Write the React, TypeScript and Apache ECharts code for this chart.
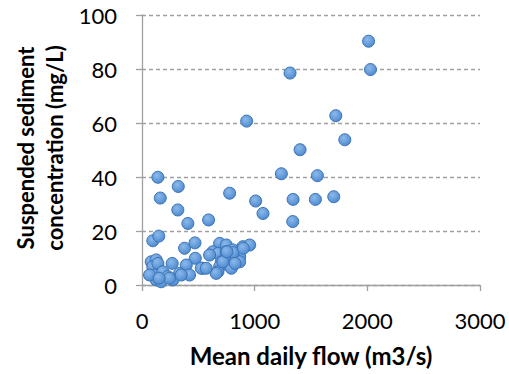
import React, { useEffect, useRef } from "react";
import * as echarts from "echarts";

const flow: number[] = [
  2011, 2028, 1314, 929, 1720, 1800, 1403, 1237, 1557, 778,
  1009, 1341, 1539, 1702, 1074, 1338, 141, 322, 162, 318,
  407, 591, 96, 149, 378, 470, 473, 689, 748, 807,
  896, 956, 629, 674, 748, 778, 867, 837, 704, 689,
  793, 540, 674, 600, 82, 126, 96, 141, 268, 393,
  526, 111, 185, 126, 229, 333, 422, 274, 170, 67,
  659, 718, 867, 808, 754, 570, 244, 348, 152, 900, 826,
];
const sediment: number[] = [
  90.3, 79.8, 78.5, 60.7, 62.7, 53.8, 50.1, 41.2, 40.5, 34,
  31.1, 31.7, 31.7, 32.7, 26.5, 23.5, 39.9, 36.5, 32.2, 27.8,
  22.8, 24.1, 16.4, 18.1, 13.6, 15.6, 9.9, 15.4, 14.8, 13,
  14.2, 14.8, 12.3, 11.7, 12.3, 11.1, 10.5, 9.3, 8.6, 6.8,
  6.2, 6.2, 4.9, 11.1, 8.6, 9.3, 6.8, 8, 8, 7.4,
  6.2, 3.7, 4.9, 1.9, 3.1, 4.3, 3.7, 1.9, 1.2, 3.7,
  4.3, 8.6, 8.6, 12, 12.3, 6.2, 2.5, 3.7, 2.5, 13.6, 8.0,
];

const xTitle = "Mean daily flow (m3/s)";
const yTitleLines = ["Suspended sediment", "concentration (mg/L)"];

export default function App() {
  const ref = useRef<HTMLDivElement>(null);
  useEffect(() => {
    if (!ref.current) return;
    const chart = echarts.init(ref.current, null, { renderer: "svg" });
    const font = "Lato, 'Open Sans', sans-serif";
    const axisColor = "#a0a0a0";
    chart.setOption({
      animation: false,
      grid: { left: 142, right: 29, top: 15, bottom: 89, containLabel: false },
      graphic: yTitleLines.map((t, i) => ({
        type: "text",
        x: 25 + i * 29,
        y: 148,
        rotation: Math.PI / 2,
        style: {
          text: t,
          align: "center",
          verticalAlign: "middle",
          fontFamily: font,
          fontSize: 22,
          fontWeight: "bold",
          fill: "#000",
        },
      })),
      xAxis: {
        type: "value",
        min: 0,
        max: 3000,
        interval: 1000,
        name: xTitle,
        nameLocation: "middle",
        nameGap: 58,
        nameTextStyle: { fontFamily: font, fontSize: 24, fontWeight: "bold", color: "#000" },
        axisLine: { show: true, lineStyle: { color: axisColor, width: 1.3 } },
        axisTick: { show: true, length: 6, lineStyle: { color: axisColor, width: 1.3 } },
        axisLabel: { margin: 24, fontFamily: font, fontSize: 22, color: "#000", formatter: (v: number) => String(v) },
        splitLine: { show: false },
      },
      yAxis: {
        type: "value",
        min: 0,
        max: 100,
        interval: 20,
        axisLine: { show: true, lineStyle: { color: axisColor, width: 1.3 } },
        axisTick: { show: true, length: 6, lineStyle: { color: axisColor, width: 1.3 } },
        axisLabel: { margin: 25, fontFamily: font, fontSize: 22, color: "#000", formatter: (v: number) => String(v) },
        splitLine: { show: true, lineStyle: { color: axisColor, type: [4, 3], width: 1.3 } },
      },
      series: [
        {
          type: "scatter",
          symbol: "circle",
          symbolSize: 12,
          data: flow.map((x, i) => [x, sediment[i]]),
          itemStyle: {
            color: new echarts.graphic.RadialGradient(0.4, 0.35, 0.7, [
              { offset: 0, color: "#8db9ea" },
              { offset: 1, color: "#4a89d0" },
            ]),
            borderColor: "#3a72b5",
            borderWidth: 1,
            opacity: 1,
          },
        },
      ],
    });
    return () => chart.dispose();
  }, []);
  return <div ref={ref} style={{ width: 509, height: 374, position: "absolute", left: 0, top: 0 }} />;
}
